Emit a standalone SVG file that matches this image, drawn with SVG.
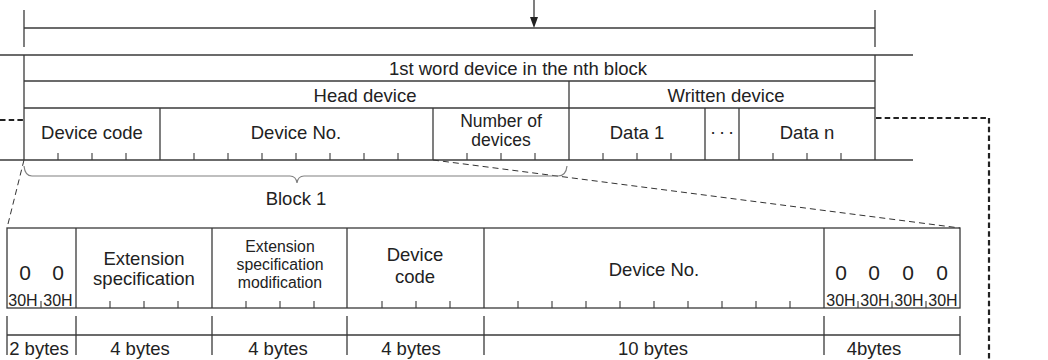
<svg xmlns="http://www.w3.org/2000/svg" width="1048" height="360" viewBox="0 0 1048 360">
<style>
.ln{stroke:#3a3a3a;stroke-width:1.3;fill:none}
.tk{stroke:#3a3a3a;stroke-width:1.1;fill:none}
.hd{stroke:#222;stroke-width:2.2;fill:none;stroke-dasharray:5.5 3.2}
.td{stroke:#333;stroke-width:1;fill:none;stroke-dasharray:6 4}
.br{stroke:#808080;stroke-width:1.2;fill:none}
text{font-family:"Liberation Sans",Arial,sans-serif;fill:#222;text-anchor:middle}
.m{font-size:18.5px}
.n{font-size:17.5px}
.s{font-size:15.8px}
.z{font-size:21px}
.h{font-size:16px}
</style>
<defs>
<marker id="ah" markerWidth="11" markerHeight="8" refX="0" refY="4" orient="auto" markerUnits="userSpaceOnUse">
<path d="M0,0 L11,4 L0,8 Z" fill="#222"/>
</marker>
</defs>

<g id="connectors">
<line class="ln" x1="534" y1="0" x2="534" y2="17" marker-end="url(#ah)"/>
<path class="hd" d="M0,120 H24"/>
<path class="hd" d="M876,118 H989 V360"/>
<path class="td" d="M24,160 L7,228"/>
<path class="td" d="M433,160 L960,228"/>
<path class="br" d="M24,166 Q25,176 32,176 L290,176 Q296,176 297,183 Q298,176 304,176 L558,176 Q566,176 567,166"/>
<text id="block1" class="m" x="296" y="205">Block 1</text>
</g>

<g id="frame-top">
<line class="ln" x1="24" y1="10" x2="24" y2="47"/>
<line class="ln" x1="875" y1="10" x2="875" y2="47"/>
<line class="ln" x1="24" y1="28" x2="875" y2="28"/>
<line class="ln" x1="0" y1="55" x2="913" y2="55"/>
<line class="ln" x1="0" y1="160" x2="913" y2="160"/>
<line class="ln" x1="24" y1="55" x2="24" y2="160"/>
<line class="ln" x1="875" y1="55" x2="875" y2="160"/>
</g>

<g id="first-word">
<line class="ln" x1="24" y1="81" x2="875" y2="81"/>
<text class="m" x="518" y="75">1st word device in the nth block</text>
</g>

<g id="head-device">
<line class="ln" x1="24" y1="108" x2="875" y2="108"/>
<text class="m" x="365" y="102">Head device</text>
</g>

<g id="written-device">
<line class="ln" x1="569" y1="81" x2="569" y2="160"/>
<text class="m" x="726" y="102">Written device</text>
</g>

<g id="device-code">
<text class="m" x="92" y="139">Device code</text>
<path class="tk" d="M58,153V160M92,153V160M126,153V160"/>
<line class="ln" x1="160" y1="108" x2="160" y2="160"/>
</g>

<g id="device-no">
<text class="m" x="296" y="139">Device No.</text>
<path class="tk" d="M194,153V160M228,153V160M262,153V160M296,153V160M330,153V160M364,153V160M398,153V160"/>
<line class="ln" x1="433" y1="108" x2="433" y2="160"/>
</g>

<g id="number-of-devices">
<text class="n" x="501" y="127">Number of</text>
<text class="n" x="501" y="146">devices</text>
<path class="tk" d="M467,153V160M501,153V160M535,153V160"/>
</g>

<g id="data1">
<text class="m" x="637" y="139">Data 1</text>
<path class="tk" d="M603,153V160M637,153V160M671,153V160"/>
<line class="ln" x1="705" y1="108" x2="705" y2="160"/>
</g>

<g id="dots">
<text class="m" x="713 722 731" y="134">...</text>
<line class="ln" x1="739" y1="108" x2="739" y2="160"/>
</g>

<g id="datan">
<text class="m" x="807" y="139">Data n</text>
<path class="tk" d="M773,153V160M807,153V160M841,153V160"/>
</g>

<g id="bottom-table">
<rect class="ln" x="7" y="228" width="953" height="80"/>
</g>

<g id="zero2">
<text class="z" x="25" y="280">0</text>
<text class="z" x="58" y="280">0</text>
<text class="h" x="23" y="306">30H</text>
<text class="h" x="58" y="306">30H</text>
<path class="tk" d="M41,301V308"/>
<line class="ln" x1="76" y1="228" x2="76" y2="308"/>
</g>

<g id="ext-spec">
<text class="m" x="144" y="265">Extension</text>
<text class="m" x="144" y="285">specification</text>
<path class="tk" d="M110,301V308M144,301V308M178,301V308"/>
<line class="ln" x1="212" y1="228" x2="212" y2="308"/>
</g>

<g id="ext-mod">
<text class="s" x="280" y="252">Extension</text>
<text class="s" x="280" y="270">specification</text>
<text class="s" x="280" y="288">modification</text>
<path class="tk" d="M246,301V308M280,301V308M314,301V308"/>
<line class="ln" x1="347" y1="228" x2="347" y2="308"/>
</g>

<g id="dev-code2">
<text class="m" x="415" y="261">Device</text>
<text class="m" x="415" y="283">code</text>
<path class="tk" d="M382,301V308M416,301V308M450,301V308"/>
<line class="ln" x1="484" y1="228" x2="484" y2="308"/>
</g>

<g id="dev-no2">
<text class="m" x="654" y="276">Device No.</text>
<path class="tk" d="M518,301V308M552,301V308M586,301V308M620,301V308M654,301V308M688,301V308M722,301V308M756,301V308M790,301V308"/>
<line class="ln" x1="824" y1="228" x2="824" y2="308"/>
</g>

<g id="zero4">
<text class="z" x="841" y="280">0</text>
<text class="z" x="874" y="280">0</text>
<text class="z" x="908" y="280">0</text>
<text class="z" x="942" y="280">0</text>
<text class="h" x="841" y="306">30H</text>
<text class="h" x="875" y="306">30H</text>
<text class="h" x="909" y="306">30H</text>
<text class="h" x="943" y="306">30H</text>
<path class="tk" d="M858,301V308M892,301V308M926,301V308"/>
</g>

<g id="bytes-row">
<line class="ln" x1="7" y1="335" x2="960" y2="335"/>
<path class="ln" d="M7,316V355M76,316V355M212,316V355M347,316V355M484,316V355M824,316V355M960,316V355"/>
<text class="m" x="39" y="355">2 bytes</text>
<text class="m" x="140" y="355">4 bytes</text>
<text class="m" x="278" y="355">4 bytes</text>
<text class="m" x="411" y="355">4 bytes</text>
<text class="m" x="653" y="355">10 bytes</text>
<text class="m" x="874" y="355">4bytes</text>
</g>
</svg>
